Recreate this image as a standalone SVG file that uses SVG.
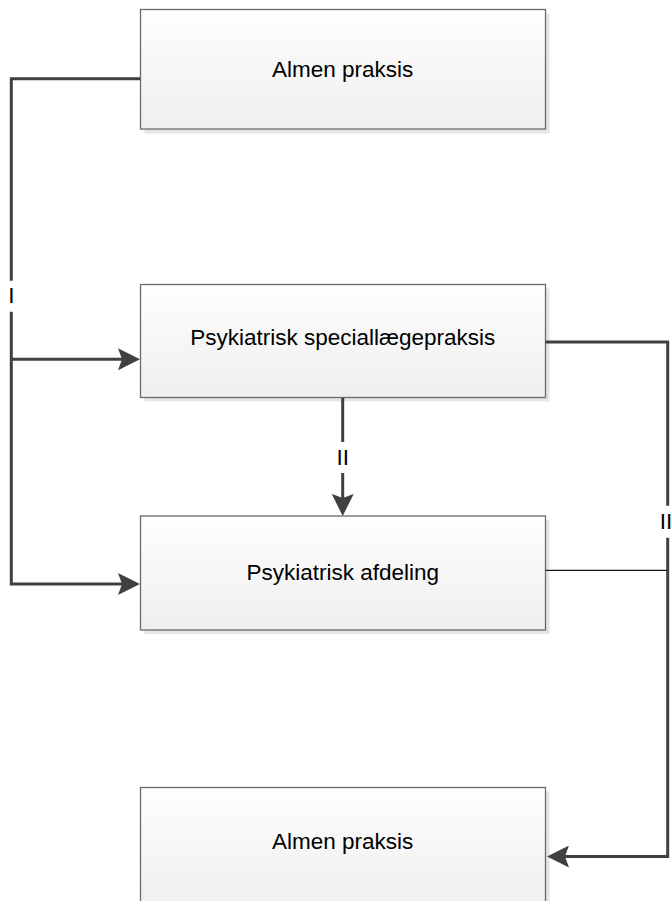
<svg xmlns="http://www.w3.org/2000/svg" width="671" height="901" viewBox="0 0 671 901">
<defs>
<linearGradient id="fillg" x1="0" y1="0" x2="0" y2="1">
<stop offset="0" stop-color="#fefefe"/>
<stop offset="1" stop-color="#efefef"/>
</linearGradient>
<marker id="arr" viewBox="0 0 22 22" refX="4" refY="11" markerWidth="22" markerHeight="22" markerUnits="userSpaceOnUse" orient="auto">
<path d="M0,0 L22,11 L0,22 L4,11 Z" fill="#404040"/>
</marker>
<style>
.shadow{fill:#e5e5e5;}
.box{fill:url(#fillg);stroke:#6a6a6a;stroke-width:1.3;}
.lbl{font-family:"Liberation Sans",Arial,sans-serif;font-size:22.5px;fill:#000;text-anchor:middle;}
.conn{fill:none;stroke:#404040;stroke-width:3;}
.thin{fill:none;stroke:#1a1a1a;stroke-width:1.2;}
</style>
</defs>
<rect width="671" height="901" fill="#fff"/>
<g id="node-almen-top">
<rect class="shadow" x="144.5" y="13.5" width="405" height="120"/>
<rect class="box" x="140.5" y="9.5" width="405" height="119.5"/>
<text class="lbl" x="342.7" y="77">Almen praksis</text>
</g>
<g id="node-speciallaege">
<rect class="shadow" x="144.5" y="288.5" width="405" height="113"/>
<rect class="box" x="140.5" y="284.5" width="405" height="113"/>
<text class="lbl" x="342.7" y="345">Psykiatrisk speciallægepraksis</text>
</g>
<g id="node-afdeling">
<rect class="shadow" x="144.5" y="520" width="405" height="114"/>
<rect class="box" x="140.5" y="516" width="405" height="114"/>
<text class="lbl" x="342.7" y="580">Psykiatrisk afdeling</text>
</g>
<g id="node-almen-bottom">
<rect class="shadow" x="144.5" y="791.5" width="405" height="120"/>
<rect class="box" x="140.5" y="787.5" width="405" height="120"/>
<text class="lbl" x="342.7" y="849">Almen praksis</text>
</g>
<g id="connectors">
<path class="conn" d="M140,78.8 H11.3 V280.7"/>
<path class="conn" d="M11.3,311.7 V584 H122" marker-end="url(#arr)"/>
<path class="conn" d="M11.3,359.3 H122" marker-end="url(#arr)"/>
<text class="lbl" x="11.3" y="303">I</text>
<path class="conn" d="M342.7,398 V442"/>
<path class="conn" d="M342.7,473 V498" marker-end="url(#arr)"/>
<text class="lbl" x="342.7" y="465">II</text>
<path class="conn" d="M545.5,342 H667.7 V505.7"/>
<path class="conn" d="M667.7,537.7 V856.5 H565" marker-end="url(#arr)"/>
<text class="lbl" x="666" y="529.3">II</text>
<path class="thin" d="M545.5,570.3 H667"/>
</g>
</svg>
